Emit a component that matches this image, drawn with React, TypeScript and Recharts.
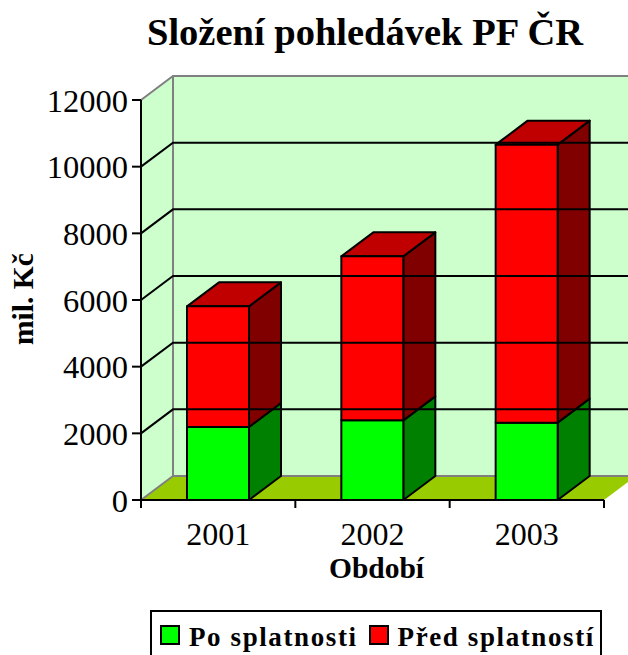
import React from 'react';
import { BarChart, Bar, XAxis, YAxis, Legend, ReferenceArea, ReferenceLine } from 'recharts';

const years = ['2001', '2002', '2003'];
const poSplatnosti = [2190, 2390, 2320];
const predSplatnosti = [3620, 4920, 8340];
const yTicks = [0, 2000, 4000, 6000, 8000, 10000, 12000];

const rows = years.map((year, i) => ({ year, po: poSplatnosti[i], pred: predSplatnosti[i] }));

const DX = 32;
const DY = 24;
const SERIF = '"Liberation Serif", "Times New Roman", serif';

function Walls({ x, y, width, height }: any) {
  const bottom = y + height;
  return (
    <g>
      <polygon points={`${x},${y} ${x + DX},${y - DY} ${x + DX},${bottom - DY} ${x},${bottom}`} fill="#ccffcc" />
      <rect x={x + DX} y={y - DY} width={width} height={height} fill="#ccffcc" />
      <polygon
        points={`${x},${bottom} ${x + width},${bottom} ${x + width + DX},${bottom - DY} ${x + DX},${bottom - DY}`}
        fill="#99cc00"
      />
      <path
        d={`M${x},${y} L${x + DX},${y - DY} H${x + width + DX} M${x + DX},${y - DY} V${bottom - DY} H${x + width + DX} M${x + DX},${bottom - DY} L${x},${bottom}`}
        fill="none"
        stroke="#808080"
        strokeWidth={2}
      />
    </g>
  );
}

function GridLine3D({ x1, y1, x2, y2 }: any) {
  return <path d={`M${x1},${y1} L${x1 + DX},${y1 - DY} H${x2 + DX}`} fill="none" stroke="#000" strokeWidth={2} />;
}

function Box3D({ x, y, width, height, fill, sideFill, topFill }: any) {
  const r = x + width;
  const b = y + height;
  return (
    <g stroke="#000" strokeWidth={2} strokeLinejoin="round">
      <polygon points={`${r},${y} ${r + DX},${y - DY} ${r + DX},${b - DY} ${r},${b}`} fill={sideFill} />
      {topFill && <polygon points={`${x},${y} ${x + DX},${y - DY} ${r + DX},${y - DY} ${r},${y}`} fill={topFill} />}
      <rect x={x} y={y} width={width} height={height} fill={fill} />
    </g>
  );
}

function YearTick({ x, y, payload, index, visibleTicksCount }: any) {
  const half = payload.offset;
  return (
    <g>
      <line x1={x - half} y1={y} x2={x - half} y2={y + 8} stroke="#000" strokeWidth={2} />
      {index === visibleTicksCount - 1 && (
        <line x1={x + half} y1={y} x2={x + half} y2={y + 8} stroke="#000" strokeWidth={2} />
      )}
      <text x={x} y={y + 45} textAnchor="middle" fontFamily={SERIF} fontSize={32} fill="#000">
        {payload.value}
      </text>
    </g>
  );
}

function LegendBox({ payload }: any) {
  return (
    <div
      style={{
        boxSizing: 'border-box',
        width: 452,
        height: 60,
        border: '2px solid #000',
        display: 'flex',
        alignItems: 'flex-start',
        paddingLeft: 8,
        paddingTop: 9,
        background: '#fff',
        fontFamily: SERIF,
        fontWeight: 700,
        fontSize: 27,
        letterSpacing: 1.6,
        lineHeight: '32px',
        whiteSpace: 'nowrap',
      }}
    >
      {(payload || []).map((p: any, i: number) => (
        <span key={p.value} style={{ display: 'flex', alignItems: 'flex-start', marginLeft: i ? 11 : 0 }}>
          <span
            style={{
              boxSizing: 'border-box',
              width: 20,
              height: 20,
              marginTop: 4,
              marginRight: 9,
              border: '2px solid #000',
              background: p.color,
            }}
          />
          {p.value}
        </span>
      ))}
    </div>
  );
}

export default function App() {
  return (
    <div style={{ position: 'absolute', left: 0, top: 0, width: 628, height: 655, overflow: 'hidden', background: '#fff' }}>
      <BarChart
        width={628}
        height={655}
        data={rows}
        margin={{ top: 100, right: 24, bottom: 0, left: 0 }}
        barSize={62}
      >
        <text x={365} y={45} textAnchor="middle" fontFamily={SERIF} fontWeight={700} fontSize={38.5} fill="#000">
          Složení pohledávek PF ČR
        </text>
        <ReferenceArea y1={0} y2={12000} shape={Walls} ifOverflow="visible" />
        {yTicks.slice(1, -1).map((t) => (
          <ReferenceLine key={t} y={t} shape={GridLine3D} ifOverflow="visible" />
        ))}
        <XAxis
          dataKey="year"
          height={155}
          interval={0}
          tickLine={false}
          tickSize={0}
          tickMargin={0}
          tick={YearTick}
          axisLine={{ stroke: '#000', strokeWidth: 2 }}
          label={{
            value: 'Období',
            position: 'insideTop',
            dx: 4,
            dy: 52,
            fontFamily: SERIF,
            fontWeight: 700,
            fontSize: 29.5,
            fill: '#000',
          }}
        />
        <YAxis
          width={141}
          domain={[0, 12000]}
          ticks={yTicks}
          interval={0}
          tickSize={9}
          tickMargin={4}
          tick={{ fontFamily: SERIF, fontSize: 32.5, fill: '#000' }}
          axisLine={{ stroke: '#000', strokeWidth: 2 }}
          tickLine={{ stroke: '#000', strokeWidth: 2 }}
          label={{
            value: 'mil. Kč',
            angle: -90,
            position: 'insideLeft',
            dx: 18,
            dy: 45,
            fontFamily: SERIF,
            fontWeight: 700,
            fontSize: 29.5,
            fill: '#000',
          }}
        />
        <Bar
          dataKey="po"
          name="Po splatnosti"
          stackId="a"
          fill="#00ff00"
          isAnimationActive={false}
          shape={(p: any) => <Box3D {...p} sideFill="#008000" />}
        />
        <Bar
          dataKey="pred"
          name="Před splatností"
          stackId="a"
          fill="#ff0000"
          isAnimationActive={false}
          shape={(p: any) => <Box3D {...p} sideFill="#800000" topFill="#c00000" />}
        />
        <Legend
          layout="horizontal"
          verticalAlign="middle"
          align="center"
          content={LegendBox}
          wrapperStyle={{ left: 150, top: 610, width: 452, height: 60, bottom: 'auto' }}
        />
      </BarChart>
    </div>
  );
}
